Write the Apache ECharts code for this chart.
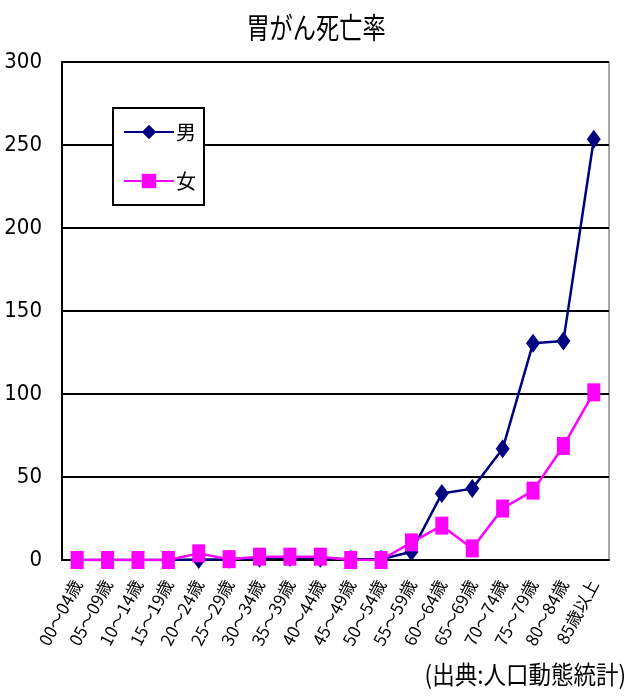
<!DOCTYPE html>
<html>
<head>
<meta charset="utf-8">
<script src="https://cdn.jsdelivr.net/npm/echarts@6/dist/echarts.min.js"></script>
<style>
  html, body { margin: 0; padding: 0; background: #fff; }
  #chart { width: 627px; height: 698px; }
</style>
</head>
<body>
<div id="chart"></div>
<script>
// Age groups (5-year bands)
const ageGroups = [
  '00～04歳', '05～09歳', '10～14歳', '15～19歳', '20～24歳', '25～29歳',
  '30～34歳', '35～39歳', '40～44歳', '45～49歳', '50～54歳', '55～59歳',
  '60～64歳', '65～69歳', '70～74歳', '75～79歳', '80～84歳', '85歳以上'
];
// Stomach cancer death rate by sex
const maleRates = [0, 0, 0, 0, 0.3, 0.5, 1, 1.5, 1, 0.5, 0.5, 5, 40, 43, 67, 130.5, 132, 253.5];
const femaleRates = [0, 0, 0, 0, 4, 0.5, 2, 2, 2, 0, 0, 10.6, 20.7, 7, 31, 41.8, 68.7, 101];
const yTicks = { min: 0, max: 300, step: 50 };

const CJK = '"Noto Sans CJK JP", "Noto Sans", sans-serif';
const NUM = '"DejaVu Sans Condensed", "Liberation Sans Narrow", "Liberation Sans", sans-serif';

const chart = echarts.init(document.getElementById('chart'));
chart.setOption({
  animation: false,
  backgroundColor: '#ffffff',
  grid: {
    left: 62, right: 18, top: 62, bottom: 138,
    containLabel: false, outerBoundsMode: 'none',
    show: true, borderColor: '#8c8c8c', borderWidth: 1.5
  },
  legend: {
    orient: 'vertical',
    left: 113, top: 108,
    padding: [14, 8, 14, 10],
    itemWidth: 50, itemHeight: 18, itemGap: 29,
    backgroundColor: '#ffffff',
    borderColor: '#000', borderWidth: 2,
    textStyle: { fontFamily: CJK, fontSize: 20, color: '#000', padding: [0, 0, 0, -3] },
    data: ['男', '女']
  },
  xAxis: {
    type: 'category',
    data: ageGroups,
    boundaryGap: true,
    axisLine: { lineStyle: { color: '#000', width: 2 } },
    axisTick: { inside: true, length: 6, lineStyle: { color: '#000', width: 2 } },
    axisLabel: {
      interval: 0, rotate: 62, margin: 21,
      fontFamily: CJK, fontSize: 17, color: '#000'
    }
  },
  yAxis: {
    type: 'value',
    min: yTicks.min, max: yTicks.max, interval: yTicks.step,
    axisLine: { show: true, lineStyle: { color: '#000', width: 2 } },
    axisTick: { show: false },
    splitLine: { lineStyle: { color: '#000', width: 2 } },
    axisLabel: {
      margin: 20, fontFamily: NUM, fontWeight: 'condensed', fontSize: 22, color: '#000',
      padding: [5, 0, 0, 0]
    }
  },
  series: [
    {
      name: '男', type: 'line', data: maleRates,
      color: '#000080',
      symbol: 'diamond', symbolSize: [14, 19],
      lineStyle: { color: '#000080', width: 2.5 },
      itemStyle: { color: '#000080' },
      z: 2
    },
    {
      name: '女', type: 'line', data: femaleRates,
      color: '#ff00ff',
      symbol: 'rect', symbolSize: [13, 18],
      lineStyle: { color: '#ff00ff', width: 2.5 },
      itemStyle: { color: '#ff00ff' },
      z: 3
    }
  ],
  graphic: [
    {
      type: 'text', x: 316, y: 28, scaleX: 0.8,
      style: {
        text: '胃がん死亡率', font: '29px ' + CJK, fill: '#000',
        align: 'center', verticalAlign: 'middle'
      }
    },
    {
      type: 'text', x: 626, y: 674, scaleX: 0.9,
      style: {
        text: '(出典:人口動態統計)', font: '25px ' + CJK, fill: '#000',
        align: 'right', verticalAlign: 'middle'
      }
    }
  ]
});
</script>
</body>
</html>
